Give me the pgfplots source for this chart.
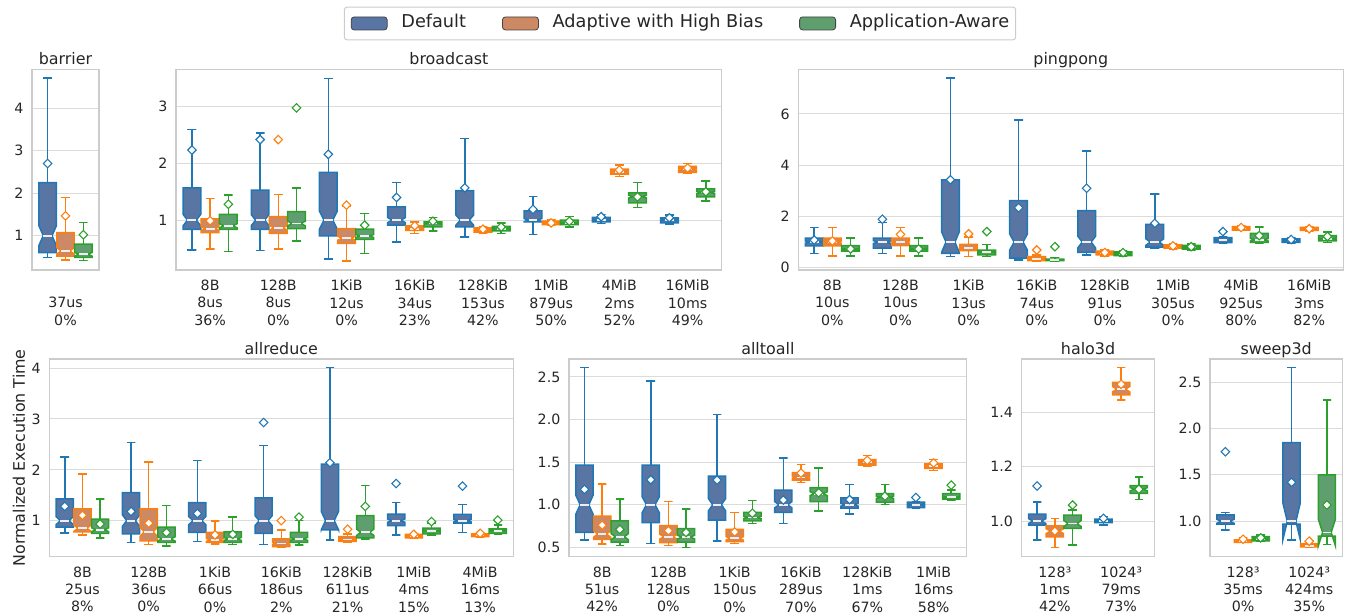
\documentclass[border=0pt]{standalone}
\usepackage{fontspec}
\setmainfont{DejaVu Sans}
\usepackage{pgfplots}
\pgfplotsset{compat=1.18}
\definecolor{eA}{HTML}{1F77B4}
\definecolor{eB}{HTML}{FF7F0E}
\definecolor{eC}{HTML}{2CA02C}
\definecolor{fA}{HTML}{5975A4}
\definecolor{fB}{HTML}{CC8963}
\definecolor{fC}{HTML}{5F9E6E}
\definecolor{txt}{HTML}{262626}
\definecolor{gridc}{HTML}{DBDBDB}
\definecolor{framec}{HTML}{CCCCCC}
\definecolor{medc}{HTML}{EEEEEE}
\definecolor{legedge}{HTML}{444444}
\newcommand\tickfont{\fontsize{14.2bp}{17.2bp}\selectfont}
\newcommand\titlefont{\fontsize{15.9bp}{19bp}\selectfont}
\newcommand\legfont{\fontsize{17.7bp}{21bp}\selectfont}
\def\offA{-0.2667}\def\offB{0}\def\offC{0.2667}
\def\nk{0.14}
% #1 category, #2 series, #3 lower whisker, #4 q1, #5 median, #6 q3, #7 upper whisker, #8 mean
\newcommand\bx[8]{%
 \pgfmathsetmacro\bxc{#1+\csname off#2\endcsname}%
 \pgfmathsetmacro\bxl{\bxc-0.13}%
 \pgfmathsetmacro\bxr{\bxc+0.13}%
 \pgfmathsetmacro\bcl{\bxc-0.065}%
 \pgfmathsetmacro\bcr{\bxc+0.065}%
 \pgfmathsetmacro\bnl{#5-\nk*(#6-#4)}%
 \pgfmathsetmacro\bnh{#5+\nk*(#6-#4)}%
 \addplot[draw=e#2, line width=1.5bp] coordinates {(\bcl,#7) (\bcr,#7) (\bxc,#7) (\bxc,#6)};
 \addplot[draw=e#2, line width=1.5bp] coordinates {(\bcl,#3) (\bcr,#3) (\bxc,#3) (\bxc,#4)};
 \addplot[draw=e#2, fill=f#2, line width=1.5bp] coordinates {(\bxl,#4) (\bxr,#4) (\bxr,\bnl) (\bcr,#5) (\bxr,\bnh) (\bxr,#6) (\bxl,#6) (\bxl,\bnh) (\bcl,#5) (\bxl,\bnl)} --cycle;
 \addplot[draw=medc, line width=1.8bp] coordinates {(\bcl,#5) (\bcr,#5)};
 \addplot[only marks, mark=square*, mark size=3bp, mark options={rotate=45, fill=white, draw=e#2, line width=1.1bp}] coordinates {(\bxc,#8)};
}
\pgfplotsset{bxax/.style={
  scale only axis, anchor=south west,
  axis line style={draw=framec, line width=1.2bp},
  ymajorgrids, major grid style={draw=gridc, line width=1bp},
  major tick length=0pt, minor tick num=0,
  tick label style={font=\tickfont, text=txt},
  xticklabel style={align=center, inner sep=0pt, anchor=north, yshift=-10bp},
  yticklabel style={inner sep=0pt, anchor=east, xshift=-8.5bp},
  every axis title shift=0pt,
  title style={font=\titlefont, text=txt, at={(0.5,1)}, anchor=base, yshift=4.5bp, inner sep=0pt},
}}
\begin{document}
\begin{tikzpicture}
% ---------------- barrier
\begin{axis}[bxax, at={(32bp,-270bp)}, width=67bp, height=200.7bp,
  xmin=-0.5, xmax=0.5, ymin=0.19, ymax=4.92, xtick={0},
  xticklabels={{\vphantom{8B}\\37us\\0\%}},
  ytick={1,2,3,4}, yticklabels={1,2,3,4}, title={barrier}]
\bx{0}{A}{0.48}{0.60}{1.00}{2.25}{4.71}{2.70}
\bx{0}{B}{0.43}{0.52}{0.64}{1.07}{1.90}{1.465}
\bx{0}{C}{0.41}{0.49}{0.56}{0.80}{1.31}{1.02}
\end{axis}
% ---------------- broadcast
\begin{axis}[bxax, at={(176bp,-270bp)}, width=545.7bp, height=200.7bp,
  xmin=-0.5, xmax=7.5, ymin=0.12, ymax=3.66, xtick={0,...,7},
  xticklabels={{8B\\8us\\36\%},{128B\\8us\\0\%},{1KiB\\12us\\0\%},{16KiB\\34us\\23\%},{128KiB\\153us\\42\%},{1MiB\\879us\\50\%},{4MiB\\2ms\\52\%},{16MiB\\10ms\\49\%}},
  ytick={1,2,3}, yticklabels={1,2,3}, title={broadcast}]
\bx{0}{A}{0.47}{0.835}{1.0}{1.57}{2.60}{2.235}
\bx{0}{B}{0.49}{0.78}{0.85}{1.02}{1.38}{0.99}
\bx{0}{C}{0.45}{0.835}{0.90}{1.10}{1.44}{1.28}
\bx{1}{A}{0.46}{0.835}{1.0}{1.53}{2.54}{2.42}
\bx{1}{B}{0.49}{0.765}{0.865}{1.06}{1.45}{2.42}
\bx{1}{C}{0.635}{0.85}{0.94}{1.15}{1.57}{2.98}
\bx{2}{A}{0.31}{0.72}{1.0}{1.84}{3.50}{2.16}
\bx{2}{B}{0.28}{0.59}{0.68}{0.85}{1.25}{1.265}
\bx{2}{C}{0.41}{0.66}{0.72}{0.84}{1.12}{0.91}
\bx{3}{A}{0.61}{0.91}{1.0}{1.235}{1.66}{1.40}
\bx{3}{B}{0.765}{0.82}{0.85}{0.90}{0.97}{0.90}
\bx{3}{C}{0.805}{0.88}{0.94}{0.97}{1.05}{0.98}
\bx{4}{A}{0.705}{0.88}{1.0}{1.52}{2.44}{1.57}
\bx{4}{B}{0.765}{0.79}{0.82}{0.865}{0.89}{0.84}
\bx{4}{C}{0.765}{0.81}{0.85}{0.89}{0.95}{0.88}
\bx{5}{A}{0.75}{0.97}{1.0}{1.165}{1.42}{1.19}
\bx{5}{B}{0.91}{0.92}{0.95}{0.98}{1.0}{0.95}
\bx{5}{C}{0.88}{0.92}{0.95}{1.0}{1.06}{0.98}
\bx{6}{A}{0.94}{0.97}{1.0}{1.05}{1.10}{1.06}
\bx{6}{B}{1.77}{1.81}{1.855}{1.90}{1.97}{1.885}
\bx{6}{C}{1.22}{1.305}{1.415}{1.48}{1.66}{1.41}
\bx{7}{A}{0.93}{0.95}{1.0}{1.04}{1.09}{1.04}
\bx{7}{B}{1.82}{1.84}{1.90}{1.95}{2.0}{1.92}
\bx{7}{C}{1.34}{1.41}{1.49}{1.55}{1.69}{1.50}
\end{axis}
% ---------------- pingpong
\begin{axis}[bxax, at={(798.3bp,-270bp)}, width=545bp, height=200.7bp,
  xmin=-0.5, xmax=7.5, ymin=-0.09, ymax=7.74, xtick={0,...,7},
  xticklabels={{8B\\10us\\0\%},{128B\\10us\\0\%},{1KiB\\13us\\0\%},{16KiB\\74us\\0\%},{128KiB\\91us\\0\%},{1MiB\\305us\\0\%},{4MiB\\925us\\80\%},{16MiB\\3ms\\82\%}},
  ytick={0,2,4,6}, yticklabels={0,2,4,6}, title={pingpong}]
\bx{0}{A}{0.56}{0.85}{1.0}{1.15}{1.56}{1.08}
\bx{0}{B}{0.46}{0.85}{1.0}{1.15}{1.56}{1.04}
\bx{0}{C}{0.46}{0.65}{0.72}{0.86}{1.15}{0.73}
\bx{1}{A}{0.56}{0.76}{1.0}{1.15}{1.76}{1.89}
\bx{1}{B}{0.46}{0.86}{1.0}{1.15}{1.56}{1.30}
\bx{1}{C}{0.46}{0.65}{0.74}{0.86}{1.15}{0.73}
\bx{2}{A}{0.43}{0.56}{1.0}{3.43}{7.40}{3.43}
\bx{2}{B}{0.43}{0.67}{0.76}{0.91}{1.20}{1.32}
\bx{2}{C}{0.43}{0.50}{0.60}{0.69}{0.91}{1.41}
\bx{3}{A}{0.30}{0.37}{1.0}{2.62}{5.77}{2.34}
\bx{3}{B}{0.26}{0.28}{0.35}{0.43}{0.50}{0.69}
\bx{3}{C}{0.26}{0.28}{0.31}{0.33}{0.39}{0.82}
\bx{4}{A}{0.50}{0.60}{1.0}{2.23}{4.56}{3.10}
\bx{4}{B}{0.46}{0.50}{0.56}{0.65}{0.69}{0.59}
\bx{4}{C}{0.45}{0.47}{0.54}{0.62}{0.65}{0.59}
\bx{5}{A}{0.76}{0.80}{1.0}{1.69}{2.87}{1.73}
\bx{5}{B}{0.72}{0.76}{0.82}{0.89}{0.92}{0.85}
\bx{5}{C}{0.70}{0.72}{0.80}{0.87}{0.92}{0.82}
\bx{6}{A}{0.96}{0.98}{1.07}{1.17}{1.20}{1.41}
\bx{6}{B}{1.45}{1.47}{1.54}{1.60}{1.62}{1.57}
\bx{6}{C}{0.97}{0.99}{1.09}{1.34}{1.58}{1.25}
\bx{7}{A}{0.97}{0.99}{1.07}{1.12}{1.15}{1.10}
\bx{7}{B}{1.44}{1.46}{1.52}{1.57}{1.60}{1.52}
\bx{7}{C}{0.99}{1.05}{1.13}{1.25}{1.39}{1.22}
\end{axis}
% ---------------- allreduce
\begin{axis}[bxax, at={(49.3bp,-556.7bp)}, width=464bp, height=197.7bp,
  xmin=-0.5, xmax=6.5, ymin=0.29, ymax=4.18, xtick={0,...,6},
  xticklabels={{8B\\25us\\8\%},{128B\\36us\\0\%},{1KiB\\66us\\0\%},{16KiB\\186us\\2\%},{128KiB\\611us\\21\%},{1MiB\\4ms\\15\%},{4MiB\\16ms\\13\%}},
  ytick={1,2,3,4}, yticklabels={1,2,3,4}, title={allreduce},
  ylabel={Normalized Execution Time},
  every axis y label/.style={at={(axis description cs:0,0.5)}, rotate=90, anchor=center, yshift=30.3bp, font=\titlefont, text=txt}]
\bx{0}{A}{0.76}{0.87}{1.0}{1.43}{2.25}{1.28}
\bx{0}{B}{0.72}{0.78}{0.85}{1.23}{1.92}{1.105}
\bx{0}{C}{0.66}{0.75}{0.82}{1.03}{1.43}{0.935}
\bx{1}{A}{0.57}{0.74}{1.0}{1.55}{2.54}{1.18}
\bx{1}{B}{0.53}{0.60}{0.78}{1.23}{2.155}{0.95}
\bx{1}{C}{0.50}{0.57}{0.64}{0.87}{1.30}{0.765}
\bx{2}{A}{0.59}{0.77}{1.0}{1.355}{2.18}{1.14}
\bx{2}{B}{0.54}{0.57}{0.62}{0.77}{0.99}{0.72}
\bx{2}{C}{0.53}{0.57}{0.64}{0.78}{1.07}{0.73}
\bx{3}{A}{0.53}{0.75}{1.0}{1.45}{2.48}{2.93}
\bx{3}{B}{0.48}{0.49}{0.55}{0.64}{0.82}{1.0}
\bx{3}{C}{0.52}{0.57}{0.64}{0.77}{1.0}{1.07}
\bx{4}{A}{0.62}{0.82}{1.0}{2.11}{4.01}{2.14}
\bx{4}{B}{0.58}{0.59}{0.63}{0.685}{0.74}{0.83}
\bx{4}{C}{0.64}{0.66}{0.77}{1.10}{1.69}{1.28}
\bx{5}{A}{0.72}{0.90}{1.0}{1.13}{1.36}{1.73}
\bx{5}{B}{0.65}{0.66}{0.70}{0.73}{0.75}{0.73}
\bx{5}{C}{0.72}{0.74}{0.80}{0.85}{0.95}{0.98}
\bx{6}{A}{0.77}{0.95}{1.0}{1.125}{1.32}{1.68}
\bx{6}{B}{0.67}{0.685}{0.71}{0.74}{0.76}{0.75}
\bx{6}{C}{0.74}{0.75}{0.80}{0.84}{0.915}{1.01}
\end{axis}
% ---------------- alltoall
\begin{axis}[bxax, at={(569bp,-556.7bp)}, width=397.7bp, height=197.7bp,
  xmin=-0.5, xmax=5.5, ymin=0.39, ymax=2.71, xtick={0,...,5},
  xticklabels={{8B\\51us\\42\%},{128B\\128us\\0\%},{1KiB\\150us\\0\%},{16KiB\\289us\\70\%},{128KiB\\1ms\\67\%},{1MiB\\16ms\\58\%}},
  ytick={0.5,1.0,1.5,2.0,2.5}, yticklabels={0.5,1.0,1.5,2.0,2.5}, title={alltoall}]
\bx{0}{A}{0.585}{0.675}{1.0}{1.466}{2.61}{1.18}
\bx{0}{B}{0.539}{0.594}{0.656}{0.867}{1.246}{0.76}
\bx{0}{C}{0.52}{0.56}{0.625}{0.81}{1.07}{0.71}
\bx{1}{A}{0.547}{0.79}{1.0}{1.466}{2.45}{1.293}
\bx{1}{B}{0.52}{0.555}{0.625}{0.755}{1.04}{0.695}
\bx{1}{C}{0.50}{0.56}{0.62}{0.72}{0.95}{0.675}
\bx{2}{A}{0.574}{0.82}{1.0}{1.337}{2.06}{1.29}
\bx{2}{B}{0.547}{0.566}{0.605}{0.71}{0.91}{0.68}
\bx{2}{C}{0.78}{0.81}{0.85}{0.91}{1.047}{0.90}
\bx{3}{A}{0.78}{0.91}{1.0}{1.17}{1.55}{1.055}
\bx{3}{B}{1.26}{1.29}{1.32}{1.376}{1.47}{1.37}
\bx{3}{C}{0.926}{1.035}{1.13}{1.20}{1.43}{1.14}
\bx{4}{A}{0.89}{0.96}{1.0}{1.08}{1.24}{1.06}
\bx{4}{B}{1.45}{1.466}{1.505}{1.53}{1.575}{1.52}
\bx{4}{C}{1.0}{1.03}{1.087}{1.13}{1.24}{1.10}
\bx{5}{A}{0.955}{0.965}{1.0}{1.03}{1.035}{1.085}
\bx{5}{B}{1.40}{1.427}{1.45}{1.478}{1.53}{1.49}
\bx{5}{C}{1.05}{1.065}{1.09}{1.13}{1.17}{1.23}
\end{axis}
% ---------------- halo3d
\def\nk{0.22}
\begin{axis}[bxax, at={(1021.7bp,-556.7bp)}, width=132.6bp, height=197.7bp,
  xmin=-0.5, xmax=1.5, ymin=0.869, ymax=1.596, xtick={0,1},
  xticklabels={{128³\\1ms\\42\%},{1024³\\79ms\\73\%}},
  ytick={1.0,1.2,1.4}, yticklabels={1.0,1.2,1.4}, title={halo3d}]
\bx{0}{A}{0.93}{0.985}{1.0}{1.026}{1.071}{1.129}
\bx{0}{B}{0.903}{0.942}{0.963}{0.982}{1.01}{0.963}
\bx{0}{C}{0.912}{0.973}{0.991}{1.022}{1.04}{1.059}
\bx{1}{A}{0.985}{0.994}{1.0}{1.007}{1.016}{1.01}
\bx{1}{B}{1.445}{1.464}{1.485}{1.51}{1.564}{1.503}
\bx{1}{C}{1.08}{1.102}{1.117}{1.13}{1.163}{1.117}
\end{axis}
% ---------------- sweep3d
\begin{axis}[bxax, at={(1210bp,-556.7bp)}, width=132.3bp, height=197.7bp,
  xmin=-0.5, xmax=1.5, ymin=0.618, ymax=2.75, xtick={0,1},
  xticklabels={{128³\\35ms\\0\%},{1024³\\424ms\\35\%}},
  ytick={1.0,1.5,2.0,2.5}, yticklabels={1.0,1.5,2.0,2.5}, title={sweep3d}]
\bx{0}{A}{0.906}{0.97}{1.0}{1.068}{1.093}{1.75}
\bx{0}{B}{0.77}{0.772}{0.785}{0.80}{0.827}{0.806}
\bx{0}{C}{0.78}{0.79}{0.81}{0.835}{0.85}{0.822}
\bx{1}{A}{0.80}{0.97}{1.0}{1.848}{2.657}{1.42}
\bx{1}{B}{0.72}{0.725}{0.735}{0.76}{0.79}{0.785}
\bx{1}{C}{0.75}{0.84}{0.88}{1.50}{2.31}{1.176}
\end{axis}
% ---------------- legend
\begin{axis}[at={(680bp,-23.5bp)}, anchor=center, hide axis, scale only axis,
  width=10bp, height=10bp, xmin=0, xmax=1, ymin=0, ymax=1,
  legend columns=3,
  legend image code/.code={\draw[#1, draw=legedge, line width=0.8bp] (0bp,-4.5bp) rectangle (36bp,8.5bp);},
  legend style={at={(0.5,0.5)}, anchor=center, draw=framec, line width=1bp, rounded corners=3bp,
    font=\legfont, text=txt, inner xsep=6.5bp, inner ysep=9.5bp,
    nodes={inner sep=0pt, text depth=0.25em, text height=0.76em},
    /tikz/every odd column/.append style={column sep=13.8bp},
    /tikz/every even column/.append style={column sep=36bp}}]
\addlegendimage{fill=fA}\addlegendentry{Default}
\addlegendimage{fill=fB}\addlegendentry{Adaptive with High Bias}
\addlegendimage{fill=fC}\addlegendentry{Application-Aware}
\end{axis}
\pgfresetboundingbox
\path[use as bounding box] (0,0) rectangle (1348bp,-615bp);
\end{tikzpicture}
\end{document}
